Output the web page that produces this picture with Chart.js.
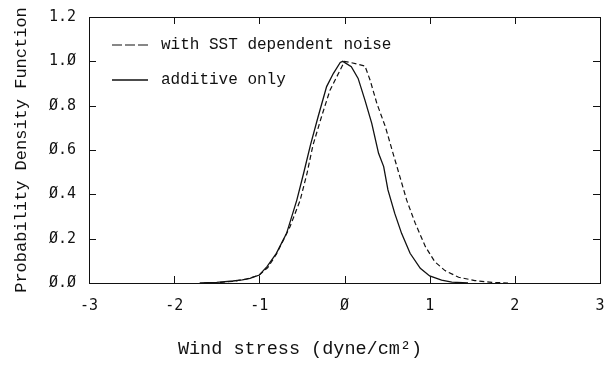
<!DOCTYPE html>
<html>
<head>
<meta charset="utf-8">
<script src="https://cdn.jsdelivr.net/npm/chart.js@4.4.1/dist/chart.umd.min.js"></script>
<style>
  html, body { margin: 0; padding: 0; background: #fff; }
  #wrap { width: 611px; height: 365px; }
</style>
</head>
<body>
<div id="wrap"><canvas id="pdfChart" width="611" height="365"></canvas></div>
<script>
// wind stress (dyne/cm^2) vs normalised PDF
const stressSST = [-1.65, -1.45, -1.30, -1.15, -1.00, -0.90, -0.80, -0.64, -0.52, -0.44, -0.37, -0.27, -0.17, -0.07, 0.00, 0.08, 0.24, 0.30, 0.38, 0.48, 0.57, 0.65, 0.73, 0.83, 0.95, 1.06, 1.18, 1.34, 1.53, 1.73, 1.92];
const pdfSST    = [0.000, 0.003, 0.008, 0.018, 0.036, 0.070, 0.130, 0.254, 0.374, 0.495, 0.622, 0.750, 0.870, 0.946, 1.000, 0.994, 0.979, 0.916, 0.810, 0.705, 0.585, 0.480, 0.374, 0.270, 0.164, 0.096, 0.056, 0.026, 0.011, 0.003, 0.000];

const stressAdd = [-1.70, -1.50, -1.31, -1.20, -1.11, -1.00, -0.91, -0.80, -0.68, -0.56, -0.48, -0.40, -0.31, -0.21, -0.13, -0.05, -0.02, 0.08, 0.16, 0.24, 0.32, 0.40, 0.46, 0.51, 0.59, 0.67, 0.77, 0.89, 1.00, 1.14, 1.26, 1.45];
const pdfAdd    = [0.000, 0.003, 0.009, 0.014, 0.021, 0.036, 0.074, 0.134, 0.224, 0.374, 0.495, 0.622, 0.750, 0.886, 0.946, 0.995, 1.000, 0.976, 0.923, 0.825, 0.720, 0.585, 0.525, 0.420, 0.314, 0.224, 0.134, 0.066, 0.032, 0.013, 0.004, 0.000];

const seriesLabels = ['with SST dependent noise', 'additive only'];
const xTitle = 'Wind stress (dyne/cm\u00B2)';
const yTitle = 'Probability Density Function';

const INK = '#111';
const MONO = '"Liberation Mono", "DejaVu Sans Mono", monospace';
const TICKFONT = '"DejaVu Sans Mono", monospace';

const zeroSlash = s => s.replace(/0/g, '\u00D8');
const pts = (xs, ys) => xs.map((x, i) => ({ x, y: ys[i] }));

// frame, inward ticks on all sides, legend in the corner, x title
const framePlugin = {
  id: 'frame',
  afterDraw(chart) {
    const ctx = chart.ctx;
    const a = chart.chartArea;
    const xs = chart.scales.x, ys = chart.scales.y;
    const len = 7;
    ctx.save();
    ctx.strokeStyle = INK;
    ctx.lineWidth = 1;
    ctx.strokeRect(Math.round(a.left) + 0.5, Math.round(a.top) + 0.5,
      Math.round(a.right - a.left), Math.round(a.bottom - a.top));
    ctx.beginPath();
    xs.ticks.forEach(t => {
      const px = Math.round(xs.getPixelForValue(t.value)) + 0.5;
      ctx.moveTo(px, a.bottom); ctx.lineTo(px, a.bottom - len);
      ctx.moveTo(px, a.top); ctx.lineTo(px, a.top + len);
    });
    ys.ticks.forEach(t => {
      const py = Math.round(ys.getPixelForValue(t.value)) + 0.5;
      ctx.moveTo(a.left, py); ctx.lineTo(a.left + len, py);
      ctx.moveTo(a.right, py); ctx.lineTo(a.right - len, py);
    });
    ctx.stroke();

    // legend
    ctx.font = '16px ' + MONO;
    ctx.fillStyle = INK;
    ctx.textBaseline = 'middle';
    chart.data.datasets.forEach((ds, i) => {
      const y = a.top + 28 + i * 35;
      ctx.beginPath();
      ctx.lineWidth = ds.borderWidth;
      ctx.setLineDash(ds.borderDash.length ? [10, 3] : []);
      ctx.moveTo(a.left + 23, y);
      ctx.lineTo(a.left + 59, y);
      ctx.stroke();
      ctx.setLineDash([]);
      ctx.fillText(ds.label, a.left + 72, y);
    });

    // x axis title, centred on the figure rather than the axis
    ctx.font = '18.5px ' + MONO;
    ctx.textAlign = 'center';
    ctx.fillText(xTitle, 300, 349);
    ctx.restore();
  }
};

new Chart(document.getElementById('pdfChart'), {
  type: 'line',
  data: {
    datasets: [
      { label: seriesLabels[0], data: pts(stressSST, pdfSST), borderColor: INK, borderWidth: 1.2, borderDash: [5, 3] },
      { label: seriesLabels[1], data: pts(stressAdd, pdfAdd), borderColor: INK, borderWidth: 1.3, borderDash: [] }
    ]
  },
  options: {
    responsive: false,
    animation: false,
    events: [],
    layout: { padding: { top: 17, right: 11, left: 0, bottom: 0 } },
    elements: { point: { radius: 0 }, line: { tension: 0, fill: false } },
    plugins: { legend: { display: false }, tooltip: { enabled: false } },
    scales: {
      x: {
        type: 'linear', min: -3, max: 3,
        grid: { display: false, drawTicks: false },
        border: { display: false },
        ticks: {
          stepSize: 1, padding: 14, color: INK,
          font: { family: TICKFONT, size: 15 },
          callback: v => zeroSlash(String(v))
        },
        afterFit: s => { s.height = 82; s.paddingLeft = 0; s.paddingRight = 0; }
      },
      y: {
        min: 0, max: 1.2,
        grid: { display: false, drawTicks: false },
        border: { display: false },
        ticks: {
          stepSize: 0.2, padding: 13, color: INK,
          font: { family: TICKFONT, size: 15 },
          callback: v => zeroSlash(v.toFixed(1))
        },
        title: {
          display: true, text: yTitle, color: INK,
          font: { family: MONO, size: 17 },
          padding: { top: 11, bottom: 0 }
        },
        afterFit: s => { s.width = 89; s.paddingTop = 0; s.paddingBottom = 0; }
      }
    }
  },
  plugins: [framePlugin]
});
</script>
</body>
</html>
